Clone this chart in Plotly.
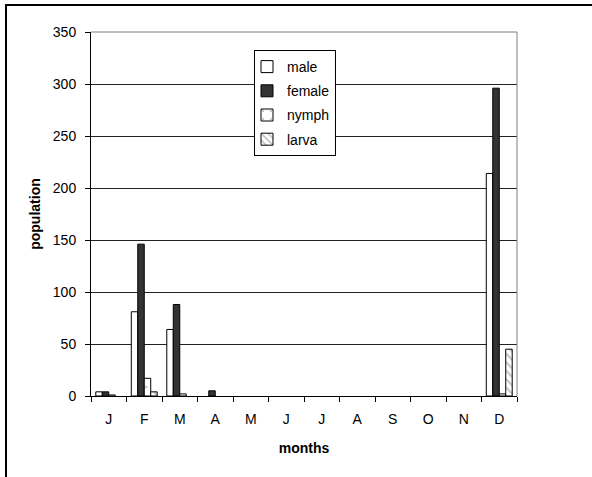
import plotly.graph_objects as go

months = ["J", "F", "M", "A", "M ", "J ", "J  ", "A ", "S", "O", "N", "D"]
tick_text = ["J", "F", "M", "A", "M", "J", "J", "A", "S", "O", "N", "D"]
male = [4, 81, 64, 0, 0, 0, 0, 0, 0, 0, 0, 214]
female = [4, 146, 88, 5, 0, 0, 0, 0, 0, 0, 0, 296]
nymph = [1, 17, 2, 0, 0, 0, 0, 0, 0, 0, 0, 2]
larva = [0, 4, 0, 0, 0, 0, 0, 0, 0, 0, 0, 45]

W, H = 592, 477
L, R, T, B = 91, 517, 32, 396


def nz(vals):
    return [v if v else None for v in vals]


fig = go.Figure()
fig.add_bar(name="male", x=months, y=nz(male), legendgroup="a",
            marker=dict(color="white", line=dict(color="black", width=1)))
fig.add_bar(name="female", x=months, y=nz(female), legendgroup="b",
            marker=dict(color="#333333", line=dict(color="black", width=1)))
fig.add_bar(name="nymph", x=months, y=nz(nymph), legendgroup="c",
            marker=dict(color="white", line=dict(color="black", width=1),
                        pattern=dict(shape=".", fgcolor="#999999", size=10, solidity=0.08)))
fig.add_bar(name="larva", x=months, y=nz(larva), legendgroup="d",
            marker=dict(color="white", line=dict(color="black", width=1),
                        pattern=dict(shape="\\", fgcolor="#888888", size=6, solidity=0.35)))


def px(x):
    return (x - L) / (R - L)


def py(y):
    return (B - y) / (B - T)


fig.update_layout(
    width=W, height=H,
    margin=dict(l=L, r=W - R, t=T, b=H - B),
    paper_bgcolor="white", plot_bgcolor="white",
    font=dict(family="Liberation Sans, Arial", size=14, color="black"),
    barmode="group", bargap=0.27, bargroupgap=0,
    showlegend=True,
    legend=dict(x=px(254), y=py(50), xanchor="left", yanchor="top",
                bgcolor="white", bordercolor="black", borderwidth=1,
                font=dict(size=14), tracegroupgap=3, itemwidth=30,
                indentation=-8),
    xaxis=dict(tickmode="array", tickvals=months, ticktext=tick_text,
               ticks="outside", tickson="boundaries", ticklen=5, tickcolor="black",
               ticklabelstandoff=10,
               showline=True, linecolor="black", linewidth=1,
               showgrid=False, mirror=False,
               title=dict(text="<b>months</b>", font=dict(size=14), standoff=17)),
    yaxis=dict(range=[0, 350], dtick=50, ticks="outside", ticklen=5, tickcolor="black",
               ticklabelstandoff=6,
               showline=True, linecolor="black", linewidth=1,
               showgrid=True, gridcolor="#222222", gridwidth=1, zeroline=False,
               title=dict(text="<b>population</b>", font=dict(size=14), standoff=8)),
    shapes=[
        dict(type="line", xref="paper", yref="paper", x0=1, x1=1, y0=0, y1=1,
             line=dict(color="#808080", width=1)),
        dict(type="line", xref="paper", yref="paper", x0=0, x1=1, y0=1, y1=1,
             line=dict(color="#808080", width=1)),
        dict(type="line", xref="paper", yref="paper",
             x0=px(6), x1=px(592), y0=py(5), y1=py(5),
             line=dict(color="black", width=2)),
        dict(type="line", xref="paper", yref="paper",
             x0=px(6), x1=px(6), y0=py(4), y1=py(477),
             line=dict(color="black", width=2)),
    ],
)

fig.write_html("out.html", config={"displayModeBar": False},
               post_script="document.body.style.margin='0';"
                           "document.body.style.overflow='hidden';"
                           "document.documentElement.style.overflow='hidden';")
